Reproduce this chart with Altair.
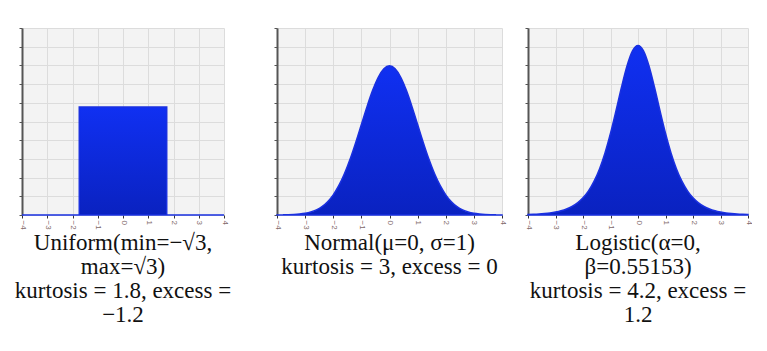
import altair as alt
import pandas as pd

# ---- data ----
x_grid = [-4.0, -3.8, -3.6, -3.4, -3.2, -3.0, -2.8, -2.6, -2.4, -2.2, -2.0,
          -1.8, -1.6, -1.4, -1.2, -1.0, -0.8, -0.6, -0.4, -0.2, 0.0,
          0.2, 0.4, 0.6, 0.8, 1.0, 1.2, 1.4, 1.6, 1.8, 2.0,
          2.2, 2.4, 2.6, 2.8, 3.0, 3.2, 3.4, 3.6, 3.8, 4.0]
normal_pdf = [0.0001, 0.0003, 0.0006, 0.0012, 0.0024, 0.0044, 0.0079, 0.0136, 0.0224, 0.0355, 0.0540,
              0.0790, 0.1109, 0.1497, 0.1942, 0.2420, 0.2897, 0.3332, 0.3683, 0.3910, 0.3989,
              0.3910, 0.3683, 0.3332, 0.2897, 0.2420, 0.1942, 0.1497, 0.1109, 0.0790, 0.0540,
              0.0355, 0.0224, 0.0136, 0.0079, 0.0044, 0.0024, 0.0012, 0.0006, 0.0003, 0.0001]
logistic_pdf = [0.0013, 0.0018, 0.0026, 0.0038, 0.0054, 0.0078, 0.0112, 0.0160, 0.0228, 0.0324, 0.0459,
                0.0645, 0.0897, 0.1231, 0.1660, 0.2186, 0.2788, 0.3418, 0.3985, 0.4387, 0.4533,
                0.4387, 0.3985, 0.3418, 0.2788, 0.2186, 0.1660, 0.1231, 0.0897, 0.0645, 0.0459,
                0.0324, 0.0228, 0.0160, 0.0112, 0.0078, 0.0054, 0.0038, 0.0026, 0.0018, 0.0013]
uniform_x = [-4.0, -1.732, 1.732, 4.0]
uniform_pdf = [0.0, 0.2887, 0.0, 0.0]

x_ticks = [-4, -3, -2, -1, 0, 1, 2, 3, 4]
y_ticks = [0.0, 0.05, 0.1, 0.15, 0.2, 0.25, 0.3, 0.35, 0.4, 0.45, 0.5]

titles = {
    "uniform": ["Uniform(min=\u2212\u221a3,", "max=\u221a3)", "kurtosis = 1.8, excess =", "\u22121.2"],
    "normal": ["Normal(\u03bc=0, \u03c3=1)", "kurtosis = 3, excess = 0"],
    "logistic": ["Logistic(\u03b1=0,", "\u03b2=0.55153)", "kurtosis = 4.2, excess =", "1.2"],
}

fill_grad = alt.Gradient(
    gradient="linear",
    stops=[alt.GradientStop(color="#1030f2", offset=0),
           alt.GradientStop(color="#0a22c0", offset=1)],
    x1=1, x2=1, y1=0, y2=1,
)

x_axis = alt.Axis(values=x_ticks, labelAngle=90, labelFontSize=8, labelColor="#806868",
                  labelPadding=2, tickSize=3, tickColor="#333333", domain=False,
                  grid=True, gridColor="#dcdcdc", title=None)
y_axis = alt.Axis(values=y_ticks, labels=False, tickSize=3, tickColor="#555555",
                  domainColor="#555555", domainWidth=2, grid=True, gridColor="#dcdcdc",
                  title=None)


def panel(df, width, title_lines, interp):
    return alt.Chart(df).mark_area(
        fill=fill_grad, stroke="#1a30e0", strokeWidth=1.5, interpolate=interp
    ).encode(
        x=alt.X("x:Q", scale=alt.Scale(domain=[-4, 4], nice=False), axis=x_axis),
        y=alt.Y("y:Q", scale=alt.Scale(domain=[0, 0.5], nice=False), axis=y_axis, stack=None),
    ).properties(
        width=width, height=187,
        title=alt.TitleParams(text=title_lines, orient="bottom", anchor="middle",
                              font="Liberation Serif", fontSize=23, fontWeight="normal",
                              color="#111111", lineHeight=24, offset=3),
    )


p1 = panel(pd.DataFrame({"x": uniform_x, "y": uniform_pdf}), 202, titles["uniform"], "step-after")
p2 = panel(pd.DataFrame({"x": x_grid, "y": normal_pdf}), 225, titles["normal"], "monotone")
p3 = panel(pd.DataFrame({"x": x_grid, "y": logistic_pdf}), 220, titles["logistic"], "monotone")

spacer = alt.Chart(pd.DataFrame({"a": [0]})).mark_point(opacity=0).encode(
    x=alt.value(0), y=alt.value(0)
).properties(width=1, height=187, view=alt.ViewBackground(fill="white", fillOpacity=0))

chart = alt.hconcat(
    p1, spacer, p2, p3, spacing=26, bounds="flush",
).properties(
    padding={"left": 14, "top": 25, "right": 0, "bottom": 0},
    background="white",
).configure_view(fill="#f3f3f3", stroke=None)

chart.save("out.html", embed_options={"renderer": "svg", "actions": False})
